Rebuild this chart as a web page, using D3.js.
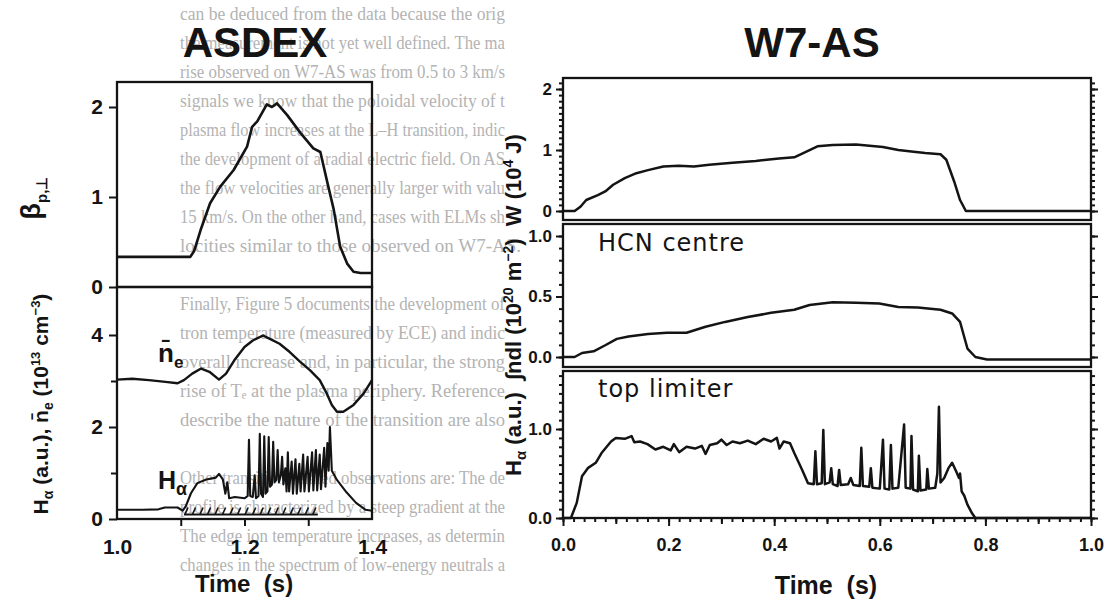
<!DOCTYPE html>
<html>
<head>
<meta charset="utf-8">
<script src="https://cdn.jsdelivr.net/npm/d3@7"></script>
<style>
  body { margin: 0; background: #fff; }
  svg { display: block; }
</style>
</head>
<body>
<svg id="chart" width="1107" height="603"></svg>
<script>
// ---- ASDEX (left figure), time in s ----
const asdexBeta = [
  [1.000, 0.335], [1.115, 0.335], [1.121, 0.40], [1.131, 0.63], [1.146, 0.93], [1.162, 1.115],
  [1.183, 1.30], [1.204, 1.56], [1.212, 1.78], [1.220, 1.84], [1.235, 2.03], [1.243, 2.00],
  [1.251, 2.04], [1.267, 1.91], [1.288, 1.71], [1.308, 1.54], [1.319, 1.50], [1.329, 1.19],
  [1.340, 0.86], [1.350, 0.45], [1.361, 0.26], [1.371, 0.17], [1.382, 0.155], [1.400, 0.155]
];
const asdexDensity = [
  [1.000, 3.03], [1.024, 3.05], [1.050, 3.02], [1.076, 2.98], [1.095, 2.95], [1.105, 3.02],
  [1.118, 3.16], [1.132, 3.27], [1.145, 3.20], [1.160, 3.03], [1.171, 3.16], [1.184, 3.45],
  [1.200, 3.74], [1.213, 3.88], [1.229, 3.99], [1.239, 3.92], [1.255, 3.81], [1.271, 3.63],
  [1.287, 3.42], [1.303, 3.23], [1.318, 3.02], [1.329, 2.73], [1.337, 2.48], [1.345, 2.33],
  [1.355, 2.33], [1.371, 2.48], [1.387, 2.73], [1.400, 3.02]
];
const asdexHalpha = [
  [1.000, 0.20], [1.040, 0.20], [1.065, 0.21], [1.075, 0.25], [1.095, 0.25], [1.103, 0.18],
  [1.108, 0.28], [1.116, 0.56], [1.126, 0.78], [1.140, 0.86], [1.155, 0.90], [1.160, 0.98],
  [1.166, 0.86], [1.170, 0.55], [1.173, 0.80], [1.176, 0.45], [1.185, 0.48], [1.200, 0.45],
  [1.205, 0.50], [1.207, 1.72], [1.209, 0.50], [1.213, 0.48], [1.216, 0.95], [1.218, 0.45],
  [1.222, 0.50], [1.224, 1.85], [1.226, 0.55], [1.229, 0.48], [1.231, 1.80], [1.233, 0.55],
  [1.236, 0.60], [1.238, 1.78], [1.240, 0.70], [1.243, 0.75], [1.245, 1.68], [1.247, 0.80],
  [1.250, 0.85], [1.252, 1.50], [1.254, 0.80], [1.257, 0.95], [1.259, 1.35], [1.261, 0.75],
  [1.264, 1.10], [1.266, 0.60], [1.268, 1.45], [1.270, 0.60], [1.274, 1.25], [1.276, 0.55],
  [1.280, 1.30], [1.282, 0.55], [1.286, 1.20], [1.288, 0.60], [1.292, 1.40], [1.294, 0.60],
  [1.299, 1.35], [1.301, 0.60], [1.306, 1.45], [1.308, 0.62], [1.312, 1.50], [1.314, 0.62],
  [1.318, 1.40], [1.320, 0.65], [1.325, 1.55], [1.327, 0.70], [1.330, 1.65], [1.332, 1.05],
  [1.334, 2.00], [1.337, 1.05], [1.345, 0.85], [1.360, 0.58], [1.375, 0.35], [1.390, 0.20],
  [1.400, 0.18]
];
const asdexHPhase = [1.105, 1.315];          // hatched bar along the bottom
const asdexBetaTicks = [0, 1, 2];
const asdexLowTicks = [0, 2, 4];
const asdexTimeTicks = [1.0, 1.2, 1.4];

// ---- W7-AS (right figure), time in s ----
const w7Energy = [
  [0.000, 0], [0.022, 0], [0.033, 0.07], [0.044, 0.18], [0.066, 0.26], [0.080, 0.32],
  [0.095, 0.43], [0.117, 0.54], [0.139, 0.62], [0.161, 0.67], [0.190, 0.73], [0.219, 0.74],
  [0.248, 0.73], [0.277, 0.76], [0.321, 0.79], [0.365, 0.82], [0.409, 0.86], [0.438, 0.88],
  [0.460, 0.97], [0.482, 1.06], [0.511, 1.08], [0.555, 1.09], [0.606, 1.05], [0.635, 1.00],
  [0.664, 0.97], [0.686, 0.95], [0.715, 0.93], [0.726, 0.84], [0.741, 0.48], [0.752, 0.18],
  [0.763, 0], [1.000, 0]
];
const w7Hcn = [
  [0.000, 0], [0.022, 0], [0.036, 0.033], [0.058, 0.047], [0.080, 0.097], [0.102, 0.15],
  [0.124, 0.17], [0.161, 0.19], [0.197, 0.20], [0.234, 0.20], [0.270, 0.25], [0.307, 0.29],
  [0.350, 0.33], [0.394, 0.365], [0.438, 0.39], [0.467, 0.43], [0.511, 0.453], [0.555, 0.448],
  [0.599, 0.442], [0.635, 0.414], [0.672, 0.41], [0.715, 0.39], [0.737, 0.36], [0.752, 0.29],
  [0.759, 0.18], [0.766, 0.07], [0.781, 0.0], [0.803, -0.02], [1.000, -0.02]
];
const w7Halpha = [
  [0.000, 0], [0.015, 0], [0.026, 0.17], [0.036, 0.47], [0.047, 0.56], [0.062, 0.62],
  [0.073, 0.73], [0.091, 0.86], [0.100, 0.90], [0.117, 0.89], [0.130, 0.92], [0.135, 0.85],
  [0.146, 0.86], [0.160, 0.83], [0.175, 0.77], [0.190, 0.80], [0.204, 0.76], [0.210, 0.83],
  [0.220, 0.74], [0.234, 0.80], [0.250, 0.78], [0.263, 0.81], [0.270, 0.72], [0.278, 0.82],
  [0.292, 0.84], [0.300, 0.88], [0.310, 0.82], [0.321, 0.86], [0.335, 0.84], [0.350, 0.87],
  [0.365, 0.83], [0.380, 0.89], [0.394, 0.86], [0.405, 0.90], [0.410, 0.78], [0.418, 0.86],
  [0.430, 0.84], [0.438, 0.73], [0.453, 0.54], [0.464, 0.39], [0.475, 0.38], [0.478, 0.75],
  [0.481, 0.38], [0.490, 0.39], [0.493, 0.99], [0.496, 0.38], [0.505, 0.40], [0.508, 0.56],
  [0.511, 0.38], [0.520, 0.36], [0.523, 0.54], [0.526, 0.37], [0.540, 0.38], [0.545, 0.45],
  [0.550, 0.37], [0.562, 0.36], [0.565, 0.79], [0.568, 0.36], [0.580, 0.35], [0.583, 0.56],
  [0.586, 0.34], [0.600, 0.33], [0.606, 0.88], [0.609, 0.33], [0.618, 0.32], [0.621, 0.82],
  [0.624, 0.33], [0.635, 0.34], [0.646, 1.05], [0.649, 0.34], [0.658, 0.33], [0.660, 0.92],
  [0.663, 0.32], [0.672, 0.30], [0.674, 0.70], [0.677, 0.31], [0.688, 0.32], [0.690, 0.55],
  [0.693, 0.33], [0.705, 0.34], [0.709, 0.50], [0.712, 1.25], [0.715, 0.40], [0.722, 0.45],
  [0.730, 0.56], [0.737, 0.62], [0.745, 0.52], [0.750, 0.45], [0.752, 0.50], [0.755, 0.30],
  [0.760, 0.25], [0.766, 0.15], [0.775, 0.05], [0.781, 0.0], [1.000, 0.0]
];
const w7EnergyTicks = [0, 1, 2];
const w7HcnTicks = [0, 0.5, 1];
const w7HalphaTicks = [0, 1];
const w7TimeTicks = [0, 0.2, 0.4, 0.6, 0.8, 1.0];

// text of the page showing through the scan
const pageLines = [
  'can be deduced from the data because the orig',
  'the measurement is not yet well defined. The ma',
  'rise observed on W7-AS was from 0.5 to 3 km/s',
  'signals we know that the poloidal velocity of t',
  'plasma flow increases at the L\u2013H transition, indic',
  'the development of a radial electric field. On AS',
  'the flow velocities are generally larger with valu',
  '15 km/s. On the other hand, cases with ELMs sh',
  'locities similar to those observed on W7-AS.',
  '',
  'Finally, Figure 5 documents the development of',
  'tron temperature (measured by ECE) and indic',
  'overall increase and, in particular, the strong',
  'rise of T\u2091 at the plasma periphery. Reference',
  'describe the nature of the transition are also',
  '',
  'Other transition-related observations are: The de',
  'profile is characterized by a steep gradient at the',
  'The edge ion temperature increases, as determin',
  'changes in the spectrum of low-energy neutrals a'
];

const ink = '#141414';
const sans = '"Liberation Sans", Arial, sans-serif';
const svg = d3.select('#chart');

// faint page text behind everything, cut at the edge of the right figure
svg.append('g')
  .selectAll('text')
  .data(pageLines.filter((d) => d))
  .join('text')
  .attr('x', 180)
  .attr('y', (d) => 20 + pageLines.indexOf(d) * 29)
  .attr('fill', '#b3b3b3')
  .attr('textLength', (d) => (d.endsWith('.') ? null : 325))
  .attr('lengthAdjust', 'spacingAndGlyphs')
  .style('font', '19px "Liberation Serif", "Times New Roman", serif')
  .text((d) => d);

function curve(g, data, x, y, w) {
  g.append('path')
    .datum(data)
    .attr('d', d3.line().x((d) => x(d[0])).y((d) => y(d[1])))
    .attr('fill', 'none')
    .attr('stroke', ink)
    .attr('stroke-width', w)
    .attr('stroke-linejoin', 'round');
}

function frame(x0, x1, y0, y1) {
  svg.append('rect')
    .attr('x', x0).attr('y', y0)
    .attr('width', x1 - x0).attr('height', y1 - y0)
    .attr('fill', 'none').attr('stroke', ink).attr('stroke-width', 2.3);
}

function tidy(g, size) {
  g.select('.domain').remove();
  g.selectAll('line').attr('stroke', ink).attr('stroke-width', 2);
  g.selectAll('text').attr('fill', ink)
    .style('font', `bold ${size}px ${sans}`);
}
// tick marks only, no labels
function marks(g) {
  g.select('.domain').remove();
  g.selectAll('text').remove();
  g.selectAll('line').attr('stroke', ink).attr('stroke-width', 2);
}

// ================= ASDEX =================
const xA = d3.scaleLinear().domain([1.0, 1.4]).range([117, 372]);
const yBeta = d3.scaleLinear().domain([0, 2]).range([287, 107]);
const yLow = d3.scaleLinear().domain([0, 4]).range([519, 335]);

svg.append('g').attr('transform', 'translate(117,0)')
  .call(d3.axisLeft(yBeta).tickValues(asdexBetaTicks).tickSize(8).tickPadding(6).tickFormat(d3.format('d')))
  .call((g) => tidy(g, 21));
svg.append('g').attr('transform', 'translate(117,0)')
  .call(d3.axisLeft(yLow).tickValues(asdexLowTicks).tickSize(8).tickPadding(6).tickFormat(d3.format('d')))
  .call((g) => tidy(g, 21));
svg.append('g').attr('transform', 'translate(117,0)')
  .call(d3.axisLeft(yLow).tickValues([1, 3]).tickSize(6))
  .call(marks);
svg.append('g').attr('transform', 'translate(0,519)')
  .call(d3.axisBottom(xA).tickValues(d3.range(1.1, 1.35, 0.1)).tickSize(7))
  .call(marks);
svg.append('g').attr('transform', 'translate(0,519)')
  .call(d3.axisBottom(xA).tickValues(asdexTimeTicks).tickSize(0).tickPadding(20).tickFormat(d3.format('.1f')))
  .call((g) => tidy(g, 21));

frame(117, 372, 82, 287);
frame(117, 372, 287, 519);

const gA = svg.append('g');
curve(gA, asdexBeta, xA, yBeta, 2.6);
curve(gA, asdexDensity, xA, yLow, 2.4);
curve(gA, asdexHalpha, xA, yLow, 2.1);

// hatched bar marking the H-phase
const hatch = gA.append('g').attr('stroke', ink).attr('stroke-width', 1.6);
hatch.append('line')
  .attr('x1', xA(asdexHPhase[0])).attr('x2', xA(asdexHPhase[1]))
  .attr('y1', yLow(0.1)).attr('y2', yLow(0.1)).attr('stroke-width', 2);
hatch.selectAll('.mark')
  .data(d3.range(asdexHPhase[0] + 0.004, asdexHPhase[1], 0.0118))
  .join('line')
  .attr('class', 'mark')
  .attr('x1', (d) => xA(d) - 1.5).attr('x2', (d) => xA(d) + 1.5)
  .attr('y1', yLow(0.1)).attr('y2', yLow(0.25));

// annotations
const ne = svg.append('text').attr('x', 158).attr('y', 362).attr('fill', ink)
  .style('font', `bold 26px ${sans}`);
ne.append('tspan').text('n\u0304');
ne.append('tspan').attr('dy', 6).style('font-size', '17px').text('e');
const ha = svg.append('text').attr('x', 158).attr('y', 489).attr('fill', ink)
  .style('font', `bold 25px ${sans}`);
ha.append('tspan').text('H');
ha.append('tspan').attr('dy', 6).style('font-size', '18px').text('\u03b1');

svg.append('text').attr('x', 255).attr('y', 57).attr('text-anchor', 'middle')
  .attr('fill', ink).style('font', `bold 42px ${sans}`).text('ASDEX');
svg.append('text').attr('x', 244).attr('y', 592).attr('text-anchor', 'middle')
  .attr('fill', ink).style('font', `bold 24px ${sans}`).attr('xml:space', 'preserve').text('Time  (s)');

const betaLab = svg.append('text').attr('transform', 'translate(40,198) rotate(-90)')
  .attr('text-anchor', 'middle').attr('fill', ink).style('font', `bold 27px ${sans}`);
betaLab.append('tspan').text('\u03b2');
betaLab.append('tspan').attr('dy', 7).style('font-size', '15px').text('p,\u22a5');

const lowLab = svg.append('text').attr('transform', 'translate(48,404) rotate(-90)')
  .attr('text-anchor', 'middle').attr('fill', ink).style('font', `bold 21px ${sans}`);
lowLab.append('tspan').text('H');
lowLab.append('tspan').attr('dy', 5).style('font-size', '14px').text('\u03b1');
lowLab.append('tspan').attr('dy', -5).text(' (a.u.), n\u0304');
lowLab.append('tspan').attr('dy', 5).style('font-size', '14px').text('e');
lowLab.append('tspan').attr('dy', -5).text(' (10');
lowLab.append('tspan').attr('dy', -8).style('font-size', '13px').text('13');
lowLab.append('tspan').attr('dy', 8).text(' cm');
lowLab.append('tspan').attr('dy', -8).style('font-size', '13px').text('\u22123');
lowLab.append('tspan').attr('dy', 8).text(')');

// ================= W7-AS =================
const xW = d3.scaleLinear().domain([0, 1]).range([563, 1091]);
const panels = [
  { data: w7Energy, y: d3.scaleLinear().domain([0, 2]).range([211, 89]), box: [78, 220],
    ticks: w7EnergyTicks, fmt: d3.format('d'), minor: d3.range(0, 2.2, 0.1) },
  { data: w7Hcn, y: d3.scaleLinear().domain([0, 1]).range([357, 236]), box: [224, 367],
    ticks: w7HcnTicks, fmt: d3.format('.1f'), minor: d3.range(0, 1.1, 0.1) },
  { data: w7Halpha, y: d3.scaleLinear().domain([0, 1]).range([518, 429]), box: [371, 518],
    ticks: w7HalphaTicks, fmt: d3.format('.1f'), minor: d3.range(0, 1.65, 0.1) }
];

panels.forEach((p) => {
  svg.append('g').attr('transform', 'translate(563,0)')
    .call(d3.axisLeft(p.y).tickValues(p.ticks).tickSize(7).tickPadding(4).tickFormat(p.fmt))
    .call((g) => tidy(g, 17));
  svg.append('g').attr('transform', 'translate(563,0)')
    .call(d3.axisLeft(p.y).tickValues(p.minor).tickSize(4))
    .call(marks);
  svg.append('g').attr('transform', 'translate(1091,0)')
    .call(d3.axisRight(p.y).tickValues(p.ticks).tickSize(7))
    .call(marks);
  svg.append('g').attr('transform', 'translate(1091,0)')
    .call(d3.axisRight(p.y).tickValues(p.minor).tickSize(4))
    .call(marks);
  frame(563, 1091, p.box[0], p.box[1]);
  curve(svg, p.data, xW, p.y, 2.5);
});

svg.append('g').attr('transform', 'translate(0,518)')
  .call(d3.axisBottom(xW).tickValues(d3.range(0, 1.001, 0.02)).tickSize(4))
  .call(marks);
svg.append('g').attr('transform', 'translate(0,518)')
  .call(d3.axisBottom(xW).tickValues(d3.range(0.1, 1, 0.2)).tickSize(6))
  .call(marks);
svg.append('g').attr('transform', 'translate(0,518)')
  .call(d3.axisBottom(xW).tickValues(w7TimeTicks).tickSize(8).tickPadding(12).tickFormat(d3.format('.1f')))
  .call((g) => tidy(g, 18));

svg.append('text').attr('x', 598).attr('y', 251).attr('fill', ink)
  .style('font', `24px "DejaVu Sans", sans-serif`).style('letter-spacing', '1px').text('HCN  centre');
svg.append('text').attr('x', 598).attr('y', 397).attr('fill', ink)
  .style('font', `24px "DejaVu Sans", sans-serif`).style('letter-spacing', '1px').text('top  limiter');

svg.append('text').attr('x', 812).attr('y', 57).attr('text-anchor', 'middle')
  .attr('fill', ink).style('font', `bold 42px ${sans}`).text('W7-AS');
svg.append('text').attr('x', 826).attr('y', 594).attr('text-anchor', 'middle')
  .attr('fill', ink).style('font', `bold 25px ${sans}`).attr('xml:space', 'preserve').text('Time  (s)');

const wLab = svg.append('text').attr('transform', 'translate(521,305) rotate(-90)')
  .attr('text-anchor', 'middle').attr('fill', ink).style('font', `bold 22px ${sans}`)
  .attr('xml:space', 'preserve');
wLab.append('tspan').text('H');
wLab.append('tspan').attr('dy', 5).style('font-size', '15px').text('\u03b1');
wLab.append('tspan').attr('dy', -5).text(' (a.u.)  \u222Bndl (10');
wLab.append('tspan').attr('dy', -8).style('font-size', '14px').text('20');
wLab.append('tspan').attr('dy', 8).text(' m');
wLab.append('tspan').attr('dy', -8).style('font-size', '14px').text('\u22122');
wLab.append('tspan').attr('dy', 8).text(')  W (10');
wLab.append('tspan').attr('dy', -8).style('font-size', '14px').text('4');
wLab.append('tspan').attr('dy', 8).text(' J)');
</script>
</body>
</html>
